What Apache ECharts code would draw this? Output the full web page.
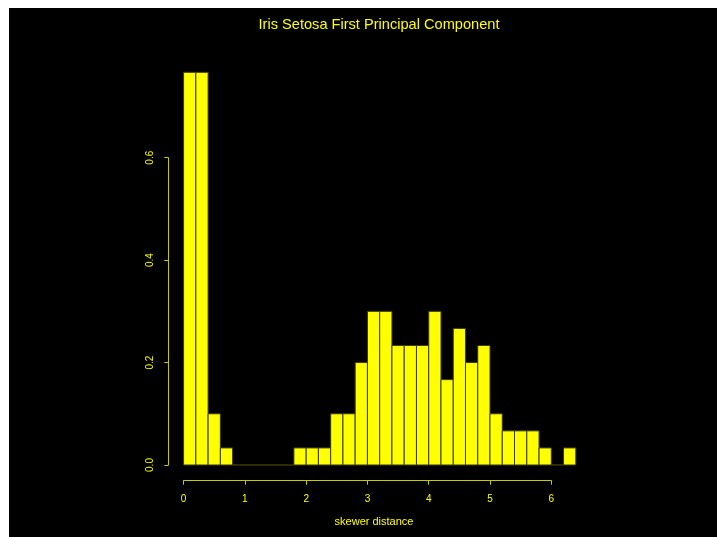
<!DOCTYPE html>
<html>
<head>
<meta charset="utf-8">
<script src="https://cdn.jsdelivr.net/npm/echarts@6/dist/echarts.min.js"></script>
<style>
html,body{margin:0;padding:0;background:#ffffff;width:717px;height:537px;overflow:hidden;}
#chart{position:absolute;left:9px;top:8px;width:708px;height:529px;}
</style>
</head>
<body>
<div id="chart"></div>
<script>
// Histogram bins (width 0.2) and densities (count / 30)
var binStarts = [0.0,0.2,0.4,0.6,0.8,1.0,1.2,1.4,1.6,1.8,2.0,2.2,2.4,2.6,2.8,3.0,3.2,3.4,3.6,3.8,4.0,4.2,4.4,4.6,4.8,5.0,5.2,5.4,5.6,5.8,6.0,6.2];
var binWidth = 0.2;
var counts = [23,23,3,1,0,0,0,0,0,1,1,1,3,3,6,9,9,7,7,7,9,5,8,6,7,3,2,2,2,1,0,1];
var densities = counts.map(function(c){ return c / 30; });
var xTicks = [0,1,2,3,4,5,6];
var yTicks = [0.0,0.2,0.4,0.6];
var titleText = 'Iris Setosa First Principal Component';
var xLabel = 'skewer distance';

var data = binStarts.map(function(s, i){ return [s, s + binWidth, densities[i]]; });

var chart = echarts.init(document.getElementById('chart'), null, {renderer:'canvas'});
var yellow = '#ffff00';
var axisCol = '#c8c800';
var font = 'Liberation Sans, Arial, Helvetica, sans-serif';

chart.setOption({
  backgroundColor: '#000000',
  animation: false,
  title: [
    {text: titleText, left: 370, top: 9.5, textAlign: 'center', padding: 0,
     textStyle: {color: yellow, fontSize: 14.6, fontWeight: 'normal', fontFamily: font}},
    {text: xLabel, left: 365, top: 508.5, textAlign: 'center', padding: 0,
     textStyle: {color: yellow, fontSize: 11, fontWeight: 'normal', fontFamily: font}}
  ],
  grid: [
    {left: 158.9, right: 125.5, top: 48.6, bottom: 56.3},
    {left: 174.6, right: 165.7, top: 48.6, bottom: 56.3},
    {left: 159.3, right: 125.5, top: 149.7, bottom: 72}
  ],
  xAxis: [
    {type: 'value', gridIndex: 0, min: -0.256, max: 6.656, show: false},
    {type: 'value', gridIndex: 1, min: xTicks[0], max: xTicks[xTicks.length-1], interval: 1,
     axisLine: {show: true, lineStyle: {color: axisCol, width: 1}},
     axisTick: {show: true, length: 4, lineStyle: {color: axisCol}},
     axisLabel: {color: yellow, fontSize: 10, margin: 14, fontFamily: font},
     splitLine: {show: false}},
    {type: 'value', gridIndex: 2, min: 0, max: 1, show: false}
  ],
  yAxis: [
    {type: 'value', gridIndex: 0, min: -0.03067, max: 0.79733, show: false},
    {type: 'value', gridIndex: 1, min: 0, max: 1, show: false},
    {type: 'value', gridIndex: 2, min: yTicks[0], max: yTicks[yTicks.length-1], interval: 0.2,
     axisLine: {show: true, lineStyle: {color: axisCol, width: 1}},
     axisTick: {show: true, length: 4, lineStyle: {color: axisCol}},
     axisLabel: {color: yellow, fontSize: 10, margin: 13, rotate: 90, fontFamily: font,
                 formatter: function(v){ return v.toFixed(1); }},
     splitLine: {show: false}}
  ],
  series: [{
    type: 'custom',
    xAxisIndex: 0, yAxisIndex: 0,
    data: data,
    encode: {x: [0,1], y: 2},
    renderItem: function(params, api){
      var p0 = api.coord([api.value(0), 0]);
      var p1 = api.coord([api.value(1), api.value(2)]);
      return {
        type: 'rect',
        shape: {x: p0[0], y: p1[1], width: p1[0]-p0[0], height: p0[1]-p1[1]},
        style: {fill: yellow, stroke: '#3c3c00', lineWidth: 1}
      };
    }
  }]
});
</script>
</body>
</html>
